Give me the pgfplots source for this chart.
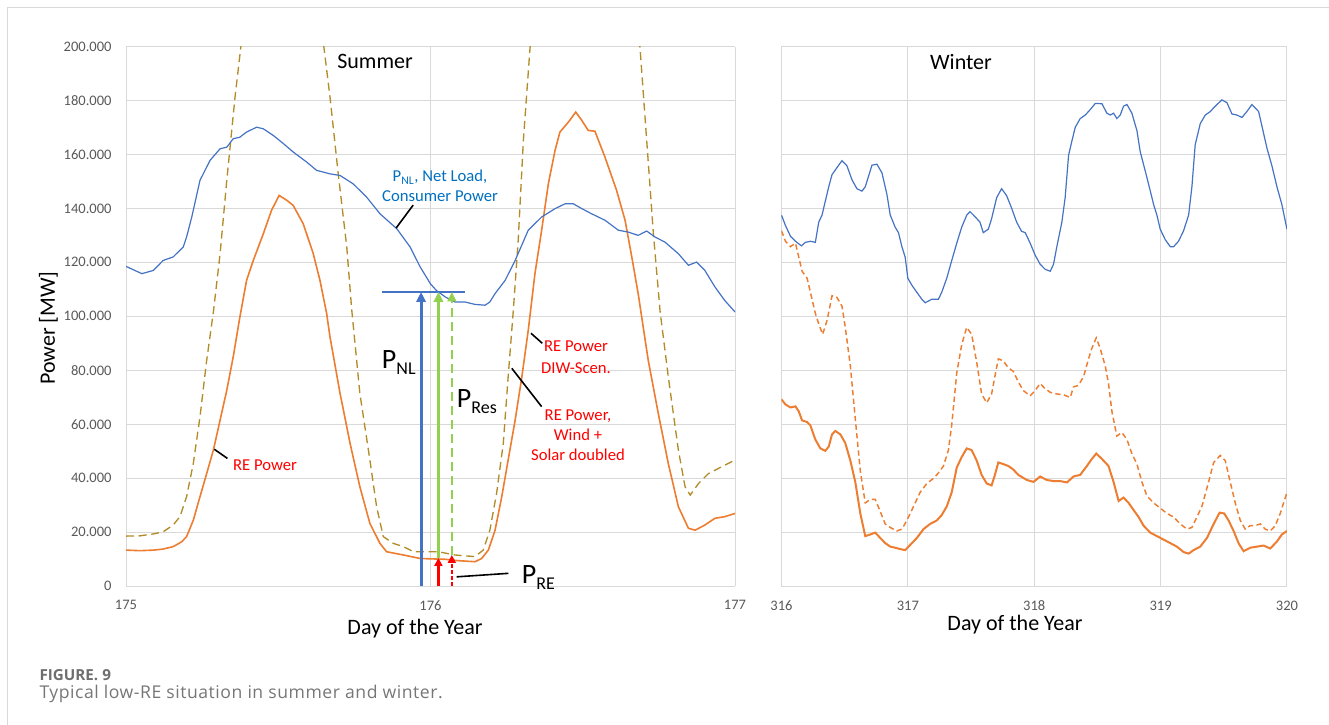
\documentclass[border=0pt]{standalone}
\usepackage{fontspec}
\setmainfont{Carlito}
\newfontfamily\capfont[LetterSpace=3]{Open Sans}
\newfontfamily\capfontb{Open Sans}
\usepackage{pgfplots}
\pgfplotsset{compat=1.18}
\usetikzlibrary{arrows.meta}
\definecolor{cblue}{RGB}{68,114,196}
\definecolor{corange}{RGB}{237,125,49}
\definecolor{cgold}{RGB}{178,140,40}
\definecolor{cgreen}{RGB}{146,208,80}
\definecolor{clabblue}{RGB}{0,112,192}
\definecolor{cred}{RGB}{255,0,0}
\definecolor{ctick}{RGB}{89,89,89}
\definecolor{cgrid}{RGB}{217,217,217}
\definecolor{ccap}{RGB}{118,118,118}
\definecolor{ccapb}{RGB}{110,110,110}
\newcommand{\bigP}[1]{{\fontsize{21}{24}\selectfont P\raisebox{-4.5pt}{\fontsize{13.5}{16}\selectfont #1}}}
\pgfplotsset{
  panel/.style={
    scale only axis, height=404.6pt, ymin=0, ymax=200000,
    ytick={0,20000,40000,60000,80000,100000,120000,140000,160000,180000,200000},
    grid=major, grid style={cgrid, line width=0.7pt},
    axis line style={draw=none},
    major tick length=0pt,
    tick label style={font=\fontsize{10.9}{13}\selectfont, text=ctick},
    scaled y ticks=false, scaled x ticks=false,
    xticklabel style={yshift=-7.4pt},
    yticklabel style={xshift=-7.3pt},
    clip=true,
  }
}
\begin{document}
\begin{tikzpicture}
\useasboundingbox (0,0) rectangle (996.75pt,-543.75pt);
\draw[cgrid, line width=0.75pt] (5.5pt,-543.75pt) -- (5.5pt,-5.5pt) -- (996.75pt,-5.5pt);

% ---------------- Summer ----------------
\begin{axis}[panel, at={(94.5pt,-439.5pt)}, anchor=south west, width=456.75pt,
  xmin=175, xmax=177, xtick={175,176,177}, xticklabels={175,176,177},
  yticklabels={0,20.000,40.000,60.000,80.000,100.000,120.000,140.000,160.000,180.000,200.000}]
\addplot[cgold, line width=1pt, dash pattern=on 6pt off 3.5pt] table {
x y
175.000 18500
175.046 18600
175.090 19300
175.122 20100
175.155 22600
175.177 25700
175.199 33100
175.221 45400
175.243 62700
175.265 83700
175.287 101600
175.309 123200
175.331 150400
175.358 181200
175.377 199700
175.520 290000
175.650 199700
175.670 181200
175.697 152800
175.725 125700
175.741 102800
175.768 71400
175.801 46700
175.823 29400
175.845 18300
175.878 15800
175.911 14600
175.944 12700
175.998 12700
176.026 12700
176.080 11500
176.146 10900
176.173 13300
176.195 20700
176.217 34300
176.239 52800
176.255 77500
176.272 102200
176.288 128100
176.305 165200
176.327 199700
176.510 330000
176.688 199700
176.710 165200
176.732 130600
176.754 101800
176.781 77500
176.814 50400
176.836 36800
176.853 33700
176.880 38000
176.913 41700
176.956 44200
177.000 46700
};
\addplot[corange, line width=1.2pt] table {
x y
175.000 13300
175.046 13100
175.090 13300
175.122 13700
175.155 14600
175.183 16400
175.199 18300
175.221 24400
175.243 33100
175.265 41700
175.287 50400
175.309 61500
175.331 72600
175.352 84900
175.374 99700
175.396 113300
175.418 120700
175.451 130600
175.478 139300
175.503 144800
175.528 143000
175.549 141100
175.582 134300
175.615 123200
175.637 113300
175.659 101000
175.670 92300
175.703 71400
175.736 52800
175.768 36800
175.801 23200
175.834 15800
175.856 12700
175.911 11500
175.966 10200
176.048 9900
176.091 9400
176.146 9000
176.168 10200
176.190 13300
176.212 20700
176.234 33100
176.255 46700
176.278 61500
176.300 77500
176.321 94800
176.343 115800
176.365 131900
176.387 149100
176.409 161500
176.425 168300
176.453 172000
176.477 175700
176.497 172600
176.518 168900
176.540 168600
176.573 159000
176.611 146700
176.639 135600
176.661 122000
176.682 108400
176.715 83700
176.748 64000
176.781 45400
176.814 29400
176.847 21400
176.869 20700
176.901 22600
176.934 25100
176.966 25700
177.000 26900
};
\addplot[cblue, line width=0.9pt] table {
x y
175.000 118500
175.052 115800
175.090 117000
175.122 120700
175.155 122000
175.188 125700
175.199 129400
175.216 136800
175.243 150400
175.276 157800
175.309 162100
175.331 162700
175.352 165800
175.374 166400
175.396 168300
175.429 170100
175.451 169500
175.484 167000
175.517 164000
175.549 160900
175.593 157200
175.626 154100
175.670 152800
175.703 152200
175.746 149100
175.790 144200
175.834 138000
175.889 132500
175.933 125700
175.966 118300
176.000 112000
176.020 109500
176.048 107200
176.080 105300
176.113 105300
176.146 104400
176.179 104100
176.195 105300
176.212 108400
176.245 113300
176.278 120700
176.321 131900
176.365 136800
176.409 139900
176.442 141700
176.469 141700
176.497 139900
176.529 138000
176.573 135600
176.617 131900
176.650 131200
176.682 130000
176.710 131600
176.737 129400
176.770 127500
176.814 123200
176.847 118900
176.874 120100
176.901 117000
176.934 110900
176.966 105900
177.000 101600
};
% annotation arrows
\draw[cblue, line width=1.1pt] (axis cs:175.840,109000) -- (axis cs:176.113,109000);
\draw[cblue, line width=2.2pt, -{Triangle[length=7.5pt,width=7pt]}] (axis cs:175.969,0) -- (axis cs:175.969,109000);
\draw[cgreen, line width=2.2pt, -{Triangle[length=7.5pt,width=7pt]}] (axis cs:176.026,10400) -- (axis cs:176.026,109000);
\draw[cgreen, line width=1.4pt, dash pattern=on 7pt off 3.5pt, -{Triangle[length=7pt,width=6.5pt]}] (axis cs:176.070,11500) -- (axis cs:176.070,109000);
\draw[cred, line width=2.2pt, -{Triangle[length=6pt,width=6pt]}] (axis cs:176.026,0) -- (axis cs:176.026,10400);
\draw[cred, line width=1.3pt, dash pattern=on 3pt off 1.5pt, -{Triangle[length=6pt,width=6pt]}] (axis cs:176.070,0) -- (axis cs:176.070,11500);
% pointer lines
\draw[black, line width=1.2pt] (axis cs:175.943,141200) -- (axis cs:175.887,132700);
\draw[black, line width=1.2pt] (axis cs:175.290,50700) -- (axis cs:175.333,47300);
\draw[black, line width=1.2pt] (axis cs:176.330,93700) -- (axis cs:176.367,90000);
\draw[black, line width=1.2pt] (axis cs:176.267,80700) -- (axis cs:176.365,66500);
\draw[black, line width=1.2pt] (axis cs:176.086,3400) -- (axis cs:176.256,4700);
\end{axis}

% ---------------- Winter ----------------
\begin{axis}[panel, at={(586.1pt,-439.5pt)}, anchor=south west, width=379.1pt,
  xmin=316, xmax=320, xtick={316,317,318,319,320}, xticklabels={316,317,318,319,320},
  yticklabels={}]
\addplot[corange, line width=1.1pt, dash pattern=on 4pt off 2.5pt] table {
x y
316.000 131700
316.032 127800
316.071 125800
316.111 127100
316.137 121900
316.163 116700
316.203 114100
316.229 108900
316.268 101100
316.295 97200
316.326 93300
316.361 98500
316.400 107600
316.439 107000
316.479 103700
316.505 95900
316.545 81600
316.584 62100
316.624 42600
316.663 30800
316.703 32100
316.742 32100
316.782 27600
316.821 23000
316.861 21700
316.913 20400
316.953 21100
316.992 24300
317.045 29500
317.097 34700
317.150 38000
317.203 39900
317.242 41900
317.282 44500
317.321 50400
317.347 59500
317.387 79000
317.426 89400
317.466 95900
317.505 93300
317.545 82900
317.584 71200
317.624 67900
317.663 71200
317.689 77700
317.716 84200
317.755 83500
317.795 80900
317.834 79600
317.874 75700
317.913 72500
317.968 70500
318.008 72500
318.047 75100
318.087 73100
318.127 71800
318.179 71200
318.232 70900
318.285 69900
318.311 73800
318.351 74400
318.391 77700
318.430 84200
318.456 88100
318.491 92000
318.522 88100
318.562 81600
318.588 75100
318.615 64700
318.654 55600
318.694 56900
318.734 54300
318.773 49100
318.813 45200
318.852 38600
318.892 33400
318.945 30800
318.997 28900
319.050 26900
319.103 25600
319.156 23000
319.208 21100
319.248 21700
319.288 25600
319.327 29500
319.380 38600
319.420 45800
319.472 48400
319.512 46500
319.551 38600
319.591 30800
319.631 24300
319.670 21100
319.710 22400
319.749 22400
319.789 23000
319.828 21100
319.868 20400
319.908 22400
319.947 26900
320.000 34700
};
\addplot[corange, line width=1.5pt] table {
x y
316.000 69200
316.032 67300
316.071 66200
316.111 66600
316.137 64700
316.163 61400
316.203 60800
316.229 59500
316.268 54300
316.308 51000
316.347 50100
316.374 51700
316.400 56200
316.426 57500
316.466 56200
316.505 53000
316.545 46500
316.584 38600
316.624 26900
316.663 18500
316.703 19100
316.742 19800
316.782 17800
316.821 15900
316.861 14600
316.900 14200
316.939 13700
316.979 13300
317.018 15200
317.071 17800
317.124 21100
317.176 23000
317.229 24300
317.268 26300
317.308 29500
317.347 34700
317.387 43900
317.426 47800
317.466 51000
317.505 50400
317.545 46500
317.584 41200
317.624 38000
317.663 37300
317.689 41200
317.716 45800
317.755 45200
317.795 44500
317.834 43200
317.874 41200
317.942 39300
317.995 38600
318.047 40600
318.100 39300
318.153 38900
318.206 38900
318.259 38400
318.311 40600
318.364 41200
318.417 44500
318.456 47100
318.491 49100
318.536 47100
318.588 44500
318.628 38600
318.668 31500
318.707 32800
318.747 30800
318.786 28200
318.826 25600
318.865 22400
318.918 19800
318.971 18500
319.024 17200
319.077 15900
319.129 14600
319.182 12600
319.222 12000
319.261 13300
319.314 14600
319.367 17800
319.420 23000
319.467 27200
319.504 26900
319.538 24300
319.578 20400
319.617 15900
319.657 12900
319.710 14200
319.763 14600
319.815 15000
319.868 13900
319.921 16500
319.960 19100
320.000 20400
};
\addplot[cblue, line width=0.9pt] table {
x y
316.000 137500
316.032 133600
316.071 129700
316.111 127800
316.158 126100
316.189 127400
316.229 127800
316.268 127400
316.295 134900
316.321 137500
316.347 142700
316.374 148000
316.400 152500
316.439 155100
316.479 157700
316.518 155800
316.558 150600
316.597 147300
316.637 146400
316.663 148000
316.689 151900
316.716 156000
316.755 156400
316.795 153200
316.834 145300
316.861 137500
316.900 133000
316.926 131000
316.953 125800
316.979 121900
317.000 114100
317.032 111500
317.071 108900
317.111 106300
317.137 105000
317.189 106300
317.242 106300
317.268 108900
317.308 114100
317.347 120600
317.387 127100
317.426 133000
317.466 137500
317.492 138800
317.532 136900
317.571 134900
317.597 131000
317.637 132300
317.663 136200
317.703 144000
317.742 147300
317.782 144700
317.821 140100
317.861 134900
317.900 131500
317.929 131000
317.968 127100
318.008 122600
318.047 119300
318.087 117400
318.127 116700
318.153 119300
318.179 125800
318.219 134900
318.245 144000
318.272 159700
318.298 164900
318.325 170100
318.364 173300
318.404 174600
318.443 176600
318.483 178900
318.536 178800
318.575 175300
318.602 174600
318.628 175300
318.654 173300
318.681 174600
318.707 177900
318.734 178500
318.773 175300
318.813 168800
318.839 161000
318.879 153800
318.918 146600
318.945 141400
318.971 137500
318.997 132300
319.037 128400
319.077 125800
319.103 125800
319.142 127800
319.182 131700
319.222 137500
319.248 148000
319.274 163600
319.314 171400
319.354 174600
319.393 175900
319.433 177900
319.485 180200
319.525 179200
319.565 175000
319.604 174600
319.644 173700
319.683 175900
319.723 178500
319.776 175900
319.842 162300
319.881 155800
319.921 148000
319.960 141400
320.000 132300
};
\end{axis}

% ---------------- texts (pixel coordinates) ----------------
\begin{scope}[x=0.75pt, y=-0.75pt]
\node[anchor=base, inner sep=0pt, font=\fontsize{16.5}{20}\selectfont] at (375,68.5) {Summer};
\node[anchor=base, inner sep=0pt, font=\fontsize{16.5}{20}\selectfont] at (961,69) {Winter};
\node[anchor=base, inner sep=0pt, font=\fontsize{16.5}{20}\selectfont] at (415,634) {Day of the Year};
\node[anchor=base, inner sep=0pt, font=\fontsize{16.5}{20}\selectfont] at (1015,630) {Day of the Year};
\node[rotate=90, inner sep=0pt, font=\fontsize{16.5}{20}\selectfont] at (48.5,328) {Power [MW]};
\node[align=center, inner sep=0pt, text=clabblue, font=\fontsize{12.5}{15}\selectfont] at (440,186) {P\textsubscript{NL}, Net Load,\\Consumer Power};
\node[inner sep=0pt, text=cred, font=\fontsize{12.5}{15}\selectfont] at (265,465) {RE Power};
\node[align=center, inner sep=0pt, text=cred, font=\fontsize{12.5}{16.5}\selectfont] at (576,357) {RE Power\\DIW-Scen.};
\node[align=center, inner sep=0pt, text=cred, font=\fontsize{12.5}{15}\selectfont] at (578,435) {RE Power,\\Wind +\\Solar doubled};
\node[anchor=base west, inner sep=0pt] at (381.7,368) {\bigP{NL}};
\node[anchor=base west, inner sep=0pt] at (456.7,407) {\bigP{Res}};
\node[anchor=base west, inner sep=0pt] at (521.7,583) {\bigP{RE}};
\node[anchor=base west, inner sep=0pt, text=ccapb, font=\capfontb\bfseries\fontsize{11.4}{13}\selectfont] at (39.3,680) {FIGURE. 9};
\node[anchor=base west, inner sep=0pt, text=ccap, font=\capfont\fontsize{13.2}{15}\selectfont] at (39.3,698.5) {Typical low-RE situation in summer and winter.};
\end{scope}
\end{tikzpicture}
\end{document}
